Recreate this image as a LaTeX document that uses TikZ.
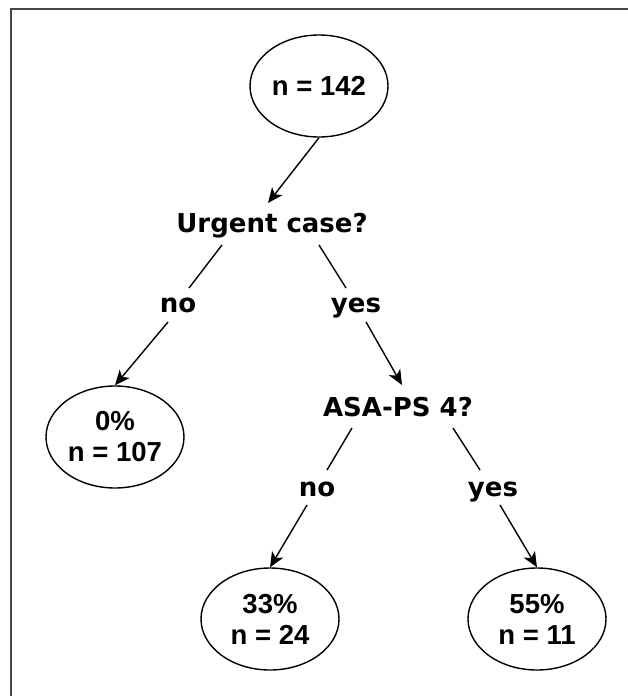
\documentclass[tikz,border=0pt]{standalone}
\usepackage{fontspec}
\usepackage{tikz}
\usetikzlibrary{shapes.geometric, arrows.meta, positioning}
\newfontfamily\queryfont{DejaVu Sans}
\newfontfamily\leaffont{Liberation Sans}
\definecolor{framegray}{RGB}{70,70,70}

\begin{document}
\begin{tikzpicture}[
        x=1pt, y=-1pt, on grid,
        leaf/.style={ellipse, draw, line width=1.4pt, minimum width=138pt, minimum height=102pt, inner sep=0pt, align=center, font=\leaffont\bfseries\fontsize{27.5}{31}\selectfont},
        query/.style={inner sep=0pt, text height=19pt, text depth=5pt, font=\queryfont\bfseries\fontsize{26}{30}\selectfont},
        branch/.style={line width=1.4pt},
        flow/.style={line width=1.4pt, -{Stealth[length=15pt, width=13pt, inset=4pt]}}
    ]
        \useasboundingbox (0,0) rectangle (628,696);
        \draw[line width=2pt, framegray] (10.5,696) |- (628,9);

        \node[leaf] (root) at (319,86) {n = 142};
        \node[query, below left=139pt and 47pt of root] (urgent) {Urgent case?};
        \node[query, below left=80pt and 94pt of urgent] (urgentno) {no};
        \node[query, below right=80pt and 84pt of urgent] (urgentyes) {yes};
        \node[leaf, below left=132pt and 63pt of urgentno] (leafzero) {0\%\\n = 107};
        \node[query, below right=104pt and 42pt of urgentyes] (asa) {ASA-PS 4?};
        \node[query, below left=80pt and 81pt of asa] (asano) {no};
        \node[query, below right=80pt and 95pt of asa] (asayes) {yes};
        \node[leaf, below left=130pt and 47pt of asano] (leafmid) {33\%\\n = 24};
        \node[leaf, below right=130pt and 44pt of asayes] (leafhigh) {55\%\\n = 11};

        \draw[flow] (root.south) -- ([shift={(-4,-22)}]urgent.center);
        \draw[branch] ([shift={(-50,20)}]urgent.center) -- ([shift={(11,-17)}]urgentno.center);
        \draw[branch] ([shift={(47,20)}]urgent.center) -- ([shift={(-10,-17)}]urgentyes.center);
        \draw[flow] ([shift={(-10,17)}]urgentno.center) -- (leafzero.north);
        \draw[flow] ([shift={(10,17)}]urgentyes.center) -- ([shift={(4,-24)}]asa.center);
        \draw[branch] ([shift={(-46,19)}]asa.center) -- ([shift={(10,-19)}]asano.center);
        \draw[branch] ([shift={(55,19)}]asa.center) -- ([shift={(-13,-19)}]asayes.center);
        \draw[flow] ([shift={(-10,16)}]asano.center) -- (leafmid.north);
        \draw[flow] ([shift={(7,16)}]asayes.center) -- (leafhigh.north);
    \end{tikzpicture}
\end{document}
